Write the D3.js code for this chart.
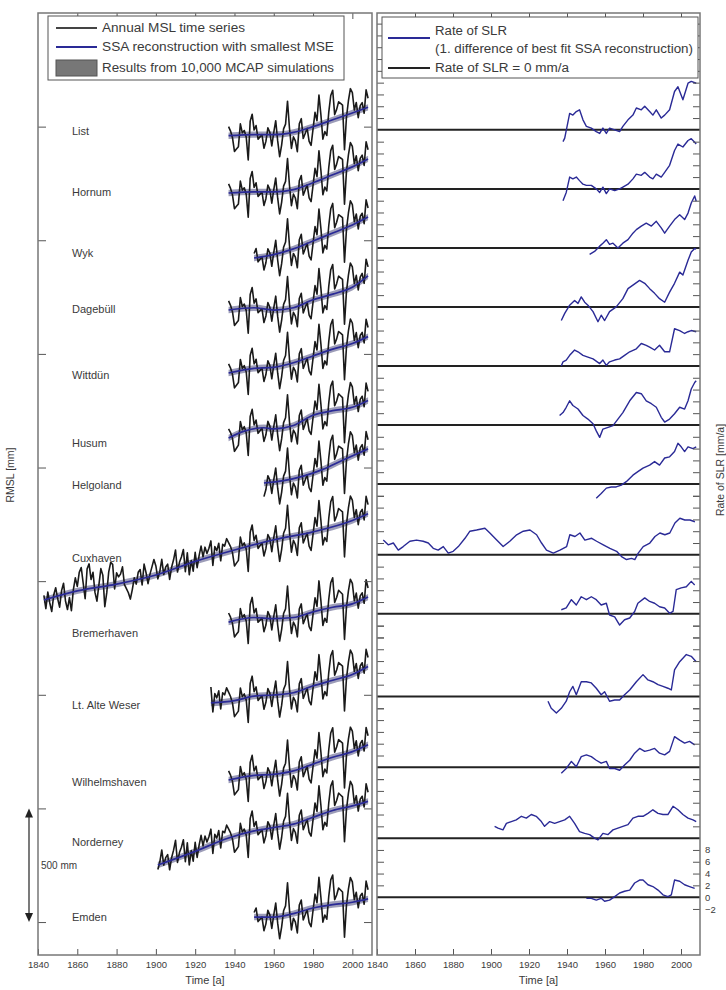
<!DOCTYPE html>
<html>
<head>
<meta charset="utf-8">
<script src="https://cdn.jsdelivr.net/npm/d3@7"></script>
<style>
  body { margin: 0; background: #fff; }
  svg { display: block; }
  text { font-family: "Liberation Sans", Arial, sans-serif; fill: #3a3a3a; }
</style>
</head>
<body>
<svg id="chart" width="726" height="990"></svg>
<script>
// ---- data ----
var stations = ["List", "Hornum", "Wyk", "Dagebüll", "Wittdün", "Husum", "Helgoland",
  "Cuxhaven", "Bremerhaven", "Lt. Alte Weser", "Wilhelmshaven", "Norderney", "Emden"];

// first year of each annual MSL record
var startYear = [1937, 1937, 1950, 1937, 1937, 1937, 1955, 1843, 1937, 1928, 1937, 1901, 1950];

// vertical offset of each record in the stacked plot (mm)
var mslOffset = [3460, 3208, 2922, 2693, 2416, 2130, 1932, 1417, 1320, 964, 625, 251, 22];

// zero line of each rate panel (mm/a, stacked)
var rateOffset = [130, 120, 110, 100, 90, 80, 70, 58, 48, 34, 22, 10, 0];

// annual MSL deviation from the SSA trend, mm (North Sea common signal)
var anomEarly = [ // 1843-1936
  20, -40, 30, -20, -60, 10, 40, -10, -50, 20,
  50, -30, -70, -20, -80, 10, 60, 20, 80, 100,
  30, -40, 90, 110, 40, 70, -20, -60, 10, 80,
  50, -90, -30, 60, 100, 90, -20, 50, 30, 40,
  70, -10, -30, -50, -80, -40, 10, -20, 30, 40,
  -30, 60, 20, -30, 10, 40, 70, 40, -20, 10,
  60, -10, 20, 30, -40, 10, 40, 80, -20, 20,
  40, 70, -30, 50, -50, 10, -40, 40, -30, 20,
  60, 10, 50, 20, 40, 70, -40, 40, 20, 50,
  -30, 40, 30, 60];
var anomLate = [ // 1937-2008
  40, 20, -10, -70, -60, -50, 50, 10, 20, -10,
  -110, 60, 90, 20, 40, -20, -10, 0, -60, -30,
  30, 10, -50, 10, 60, -30, -100, -50, 20, 40,
  140, 20, -70, -20, -40, -90, 30, 50, -40, -20,
  0, -60, -80, -10, 60, 20, 130, 40, -70, -40,
  -60, 40, 110, 130, 20, 40, 70, 60, 50, -150,
  -10, 60, 110, 90, 10, 40, -30, 20, 30, -20,
  80, 40];

// SSA reconstruction with smallest MSE, [year, mm above station offset]
var ssaList = [[1937, 0], [1950, 5], [1960, 5], [1970, 15], [1980, 40], [1990, 70], [2000, 100], [2008, 125]];
var ssaHornum = [[1937, 0], [1950, 5], [1960, 5], [1970, 15], [1980, 45], [1990, 80], [2000, 115], [2008, 150]];
var ssaWyk = [[1950, 0], [1960, 15], [1970, 40], [1980, 75], [1990, 110], [2000, 145], [2008, 180]];
var ssaDagebuell = [[1937, 0], [1950, 10], [1960, 0], [1970, 10], [1980, 45], [1990, 70], [2000, 100], [2008, 150]];
var ssaWittduen = [[1937, 0], [1950, 20], [1960, 25], [1970, 45], [1980, 75], [1990, 105], [2000, 130], [2008, 160]];
var ssaHusum = [[1937, 0], [1945, 30], [1955, 45], [1960, 40], [1970, 55], [1980, 100], [1990, 120], [2000, 135], [2008, 165]];
var ssaHelgoland = [[1955, 0], [1965, 10], [1975, 30], [1985, 60], [1995, 100], [2008, 150]];
var ssaCuxhaven = [[1843, 0], [1860, 40], [1880, 70], [1900, 110], [1920, 170], [1940, 220], [1960, 265], [1980, 300], [2000, 350], [2008, 380]];
var ssaBremerhaven = [[1937, 0], [1950, 20], [1960, 15], [1970, 20], [1980, 45], [1990, 65], [2000, 80], [2008, 110]];
var ssaAlteWeser = [[1928, 0], [1940, 10], [1950, 30], [1960, 35], [1970, 45], [1980, 75], [1990, 100], [2000, 125], [2008, 160]];
var ssaWilhelmshaven = [[1937, 0], [1950, 20], [1960, 25], [1970, 40], [1980, 70], [1990, 100], [2000, 125], [2008, 155]];
var ssaNorderney = [[1901, 0], [1920, 60], [1937, 119], [1950, 150], [1960, 165], [1970, 180], [1980, 210], [1990, 240], [2000, 260], [2008, 280]];
var ssaEmden = [[1950, 0], [1960, 0], [1970, 15], [1980, 40], [1990, 55], [2000, 65], [2008, 80]];

// rate of SLR (1st difference of SSA reconstruction), [year, mm/a]
var rateList = [[1937.9, -2.0], [1938.8, -1.4], [1941.4, 2.8], [1943.1, 2.5], [1944.9, 3.1], [1946.6, 3.4], [1948.4, 1.7], [1950.2, 0.6], [1952.8, 0.3], [1955.4, -0.3], [1957.2, -0.6], [1958.9, 0.3], [1960.7, -0.6], [1962.4, 0.3], [1965.1, 0], [1967.7, -0.3], [1969.4, 0.6], [1972.1, 1.7], [1974.7, 2.5], [1976.5, 3.7], [1979.1, 3.4], [1980.9, 4.0], [1983.5, 3.1], [1985.2, 2.5], [1987.0, 3.4], [1989.6, 2.0], [1991.4, 2.5], [1994.0, 3.4], [1996.6, 6.5], [1998.4, 7.3], [2001.0, 5.1], [2003.7, 7.9], [2005.4, 8.2], [2008.0, 7.9]];
var rateHornum = [[1937.9, -2.0], [1939.6, -0.6], [1941.4, 2.0], [1943.1, 1.7], [1944.9, 2.0], [1946.6, 1.4], [1948.4, 0.8], [1950.2, 0.6], [1952.8, 0.6], [1955.4, 0], [1957.2, -0.6], [1958.9, 0.3], [1960.7, -0.8], [1962.4, 0], [1965.1, -0.3], [1967.7, 0], [1969.4, 0.3], [1972.1, 0.8], [1974.7, 1.7], [1976.5, 2.5], [1979.1, 2.3], [1980.9, 2.8], [1983.5, 2.0], [1985.2, 1.7], [1987.0, 2.5], [1989.6, 2.0], [1991.4, 2.8], [1994.0, 4.0], [1996.6, 6.5], [1998.4, 7.6], [2001.0, 7.1], [2003.7, 8.2], [2005.4, 8.5], [2007.2, 7.9], [2008.0, 7.6]];
var rateWyk = [[1951.9, -1.1], [1954.5, -0.6], [1957.2, 0.3], [1958.9, 0.8], [1960.7, 1.4], [1962.4, 0.6], [1964.2, 0.8], [1966.8, 0], [1969.4, 0.8], [1972.1, 1.4], [1974.7, 2.5], [1976.5, 3.1], [1979.1, 3.7], [1981.7, 4.2], [1984.4, 3.7], [1987.0, 4.5], [1989.6, 3.4], [1991.4, 2.5], [1994.0, 3.7], [1996.6, 4.8], [1999.3, 5.6], [2001.9, 4.8], [2003.7, 5.9], [2005.4, 7.6], [2007.2, 8.8], [2008.0, 7.9]];
var rateDagebuell = [[1937.0, -2.3], [1938.8, -1.1], [1941.4, 0.3], [1944.0, 1.1], [1945.8, 0.6], [1947.5, 1.7], [1949.3, 0.8], [1951.0, 0.3], [1953.7, -0.8], [1956.3, -2.5], [1958.0, -1.4], [1959.8, -2.3], [1962.4, -0.8], [1965.9, 0], [1969.4, 1.4], [1972.1, 3.1], [1974.7, 3.7], [1978.2, 4.5], [1980.9, 4.0], [1983.5, 3.1], [1986.1, 2.3], [1988.7, 1.4], [1991.4, 0.8], [1994.0, 2.5], [1996.6, 4.0], [1999.3, 5.9], [2001.0, 5.4], [2003.7, 7.9], [2005.4, 9.3], [2007.2, 9.9], [2008.0, 9.8]];
var rateWittduen = [[1937.0, 0], [1937.9, 0.7], [1939.6, 1.0], [1941.4, 1.8], [1944.0, 2.7], [1945.8, 2.4], [1948.4, 1.8], [1951.0, 1.5], [1953.7, 1.2], [1957.2, 0.4], [1958.9, 1.0], [1960.7, 0.1], [1962.4, 0.7], [1965.1, 1.0], [1967.7, 1.2], [1970.3, 1.8], [1973.0, 2.4], [1976.5, 2.9], [1979.1, 3.8], [1981.7, 3.5], [1983.5, 3.2], [1986.1, 2.7], [1988.7, 3.5], [1991.4, 2.4], [1994.0, 2.4], [1996.6, 6.3], [1999.3, 6.0], [2001.9, 5.5], [2003.7, 5.8], [2005.4, 6.0], [2008.0, 5.8]];
var rateHusum = [[1936.1, 1.6], [1937.9, 2.1], [1939.6, 3.0], [1941.4, 4.1], [1943.1, 3.3], [1945.8, 2.7], [1948.4, 1.6], [1951.0, 1.0], [1953.7, 0.2], [1955.4, -1.0], [1957.2, -2.1], [1958.9, -0.7], [1961.6, -0.4], [1964.2, -0.1], [1966.8, 1.0], [1969.4, 2.1], [1973.0, 4.1], [1976.5, 5.5], [1979.1, 5.3], [1981.7, 4.1], [1984.4, 3.6], [1987.0, 3.0], [1989.6, 1.3], [1991.4, 0.5], [1994.0, 1.0], [1996.6, 1.9], [1999.3, 3.0], [2001.9, 2.7], [2003.7, 4.1], [2005.4, 6.1], [2007.2, 7.2], [2008.0, 7.5]];
var rateHelgoland = [[1955.4, -2.4], [1958.0, -1.6], [1960.7, -0.7], [1963.3, -0.5], [1965.9, -0.5], [1968.6, -0.2], [1971.2, 0.4], [1974.7, 1.5], [1977.3, 2.1], [1980.0, 2.7], [1983.5, 3.2], [1986.1, 3.8], [1988.7, 3.2], [1991.4, 4.4], [1994.0, 4.6], [1996.6, 5.5], [1998.4, 6.9], [2000.1, 6.3], [2001.9, 5.5], [2003.7, 6.3], [2006.3, 6.0], [2008.0, 6.3]];
var rateCuxhaven = [[1843.3, 2.5], [1845.9, 1.7], [1848.6, 2.0], [1851.2, 0.8], [1853.8, 1.4], [1857.3, 2.3], [1860.8, 2.5], [1864.3, 2.3], [1867.0, 2.0], [1869.6, 1.1], [1872.2, 0.8], [1874.9, 1.4], [1877.5, 0.3], [1880.1, 0.6], [1882.8, 1.4], [1886.3, 2.8], [1888.9, 4.0], [1892.4, 4.2], [1896.8, 4.5], [1899.4, 3.7], [1903.0, 2.5], [1906.4, 1.4], [1909.9, 2.3], [1913.5, 3.4], [1917.0, 4.0], [1920.5, 4.2], [1924.0, 3.4], [1926.6, 2.0], [1929.2, 0.8], [1932.8, 0.3], [1936.3, 0.8], [1939.8, 1.4], [1941.5, 3.4], [1944.2, 3.1], [1946.8, 3.7], [1949.4, 2.5], [1953.0, 2.8], [1955.6, 2.3], [1959.1, 1.7], [1962.6, 1.1], [1966.1, 0.6], [1968.7, -0.3], [1971.3, -0.8], [1974.0, -0.6], [1975.7, -0.8], [1977.5, 0.3], [1980.1, 1.4], [1983.6, 2.0], [1986.3, 3.1], [1988.9, 3.7], [1991.5, 3.4], [1994.1, 3.7], [1996.8, 5.4], [1999.4, 6.2], [2002.0, 5.9], [2004.7, 5.9], [2007.3, 5.6]];
var rateBremerhaven = [[1937.0, 0.7], [1939.6, 1.0], [1942.3, 2.4], [1944.9, 1.5], [1947.5, 2.9], [1950.2, 2.4], [1952.8, 2.9], [1955.4, 2.4], [1958.0, 1.5], [1960.7, 1.8], [1962.4, -0.2], [1965.1, -0.5], [1967.7, -1.9], [1970.3, -1.0], [1973.0, -0.7], [1975.6, 0.4], [1977.3, 1.8], [1980.9, 2.7], [1983.5, 2.1], [1986.1, 1.8], [1988.7, 1.2], [1991.4, 1.0], [1994.0, 0.1], [1995.8, 0.4], [1997.5, 4.1], [2000.1, 4.4], [2002.8, 4.6], [2005.4, 5.5], [2007.2, 4.9]];
var rateAlteWeser = [[1930.0, -0.8], [1931.7, -2.0], [1934.4, -2.8], [1937.0, -2.0], [1939.6, -0.8], [1941.4, 0.8], [1943.1, 1.7], [1944.9, 0.3], [1947.5, 2.5], [1950.2, 2.5], [1952.8, 2.3], [1955.4, 1.4], [1958.0, 0.3], [1959.8, 0.8], [1962.4, -0.8], [1965.1, -0.6], [1967.7, -0.6], [1970.3, 0.3], [1973.0, 1.1], [1976.5, 2.5], [1980.0, 3.7], [1982.6, 2.8], [1985.2, 2.5], [1987.9, 2.0], [1990.5, 1.7], [1993.1, 1.4], [1994.9, 1.1], [1996.6, 4.5], [1999.3, 5.9], [2002.8, 7.1], [2005.4, 6.8], [2008.0, 5.9]];
var rateWilhelmshaven = [[1937.0, -1.0], [1939.6, -0.2], [1942.3, 1.0], [1944.9, 0.1], [1947.5, 1.8], [1950.2, 2.1], [1952.8, 1.8], [1955.4, 1.2], [1958.0, 0.7], [1960.7, 1.0], [1962.4, -0.2], [1965.1, -0.2], [1967.7, -0.5], [1970.3, 0.4], [1973.0, 1.2], [1975.6, 2.4], [1978.2, 3.2], [1980.9, 2.7], [1983.5, 2.9], [1986.1, 3.2], [1988.7, 2.4], [1991.4, 2.1], [1994.0, 2.7], [1996.6, 5.2], [1999.3, 4.6], [2001.9, 4.1], [2004.5, 4.4], [2007.2, 3.8]];
var rateNorderney = [[1901.9, 2.0], [1903.7, 1.7], [1906.3, 1.4], [1908.1, 2.5], [1910.7, 2.8], [1913.3, 3.1], [1916.0, 3.7], [1918.6, 3.4], [1921.2, 4.0], [1923.8, 3.7], [1926.5, 2.8], [1928.2, 2.0], [1930.9, 2.8], [1933.5, 2.5], [1936.1, 2.8], [1938.8, 3.1], [1941.4, 3.7], [1944.0, 2.5], [1946.6, 1.1], [1949.3, 0.8], [1951.9, 0.6], [1954.5, 0], [1956.3, -0.3], [1958.9, 0.8], [1961.6, 0.6], [1964.2, 1.4], [1966.8, 1.7], [1969.4, 2.0], [1972.1, 2.3], [1974.7, 3.4], [1977.3, 3.7], [1980.0, 3.7], [1982.6, 4.2], [1985.2, 4.8], [1987.9, 4.2], [1990.5, 4.0], [1993.1, 4.0], [1995.8, 5.4], [1998.4, 4.8], [2001.0, 4.0], [2003.7, 3.4], [2006.3, 3.1], [2008.0, 2.8]];
var rateEmden = [[1950.2, -0.2], [1952.8, -0.2], [1955.4, -0.5], [1958.0, -0.2], [1959.8, -0.7], [1962.4, -0.5], [1965.1, 0.1], [1967.7, 0.7], [1970.3, 1.0], [1973.0, 1.2], [1975.6, 2.4], [1978.2, 2.9], [1980.0, 2.9], [1982.6, 2.1], [1985.2, 1.8], [1987.9, 1.2], [1990.5, 0.4], [1993.1, 0.1], [1994.9, 0.4], [1996.6, 2.9], [1999.3, 2.7], [2001.9, 2.1], [2004.5, 1.8], [2007.2, 1.5]];

var yearTicks = [1840, 1860, 1880, 1900, 1920, 1940, 1960, 1980, 2000];
var mslTicks = [0, 500, 1000, 1500, 2000, 2500, 3000, 3500];
var rateLabels = [-2, 0, 2, 4, 6, 8];

var ssaSeries = [ssaList, ssaHornum, ssaWyk, ssaDagebuell, ssaWittduen, ssaHusum, ssaHelgoland,
  ssaCuxhaven, ssaBremerhaven, ssaAlteWeser, ssaWilhelmshaven, ssaNorderney, ssaEmden];
var rateSeries = [rateList, rateHornum, rateWyk, rateDagebuell, rateWittduen, rateHusum, rateHelgoland,
  rateCuxhaven, rateBremerhaven, rateAlteWeser, rateWilhelmshaven, rateNorderney, rateEmden];

// ---- layout ----
var plotTop = 13, plotBottom = 955,
  colBlack = "#1a1a1a",
  colBlue = "#2a2a96",
  colFrame = "#777",
  labelNudge = [-5, -1, -5, -1, 2, 5, 2, -42, 11, 2, 2, -23, 0];

var svg = d3.select("#chart");

var xL = d3.scaleLinear().domain([1840, 2010]).range([38, 372]),
  xR = d3.scaleLinear().domain([1840, 2010]).range([377, 700]),
  yL = d3.scaleLinear().domain([-145, 4000]).range([plotBottom, plotTop]),
  yR = d3.scaleLinear().domain([-9.8, 149.8]).range([plotBottom, plotTop]);

function anomaly(year) {
  return year < 1937 ? anomEarly[year - 1843] : anomLate[year - 1937];
}

function styleAxis(g) {
  g.select(".domain").remove();
  g.selectAll(".tick line").attr("stroke", "#555").attr("stroke-width", 1);
  g.selectAll(".tick text").attr("fill", "#444").style("font-size", "9.5px");
}

// ---- left panel: annual MSL ----
var mslLayer = svg.append("g").attr("class", "msl");

ssaSeries.forEach(function(knots, i) {
  var off = mslOffset[i],
    trend = d3.scaleLinear().domain(knots.map(function(k) { return k[0]; }))
      .range(knots.map(function(k) { return k[1]; })),
    years = d3.range(startYear[i], 2009),
    g = mslLayer.append("g");

  g.append("path")
    .datum(knots)
    .attr("fill", "#7c7ca0")
    .attr("opacity", 0.75)
    .attr("d", d3.area()
      .curve(d3.curveMonotoneX)
      .x(function(d) { return xL(d[0]); })
      .y0(function(d) { return yL(off + d[1] - 14); })
      .y1(function(d) { return yL(off + d[1] + 14); }));

  g.append("path")
    .datum(years)
    .attr("fill", "none")
    .attr("stroke", colBlack)
    .attr("stroke-width", 1.6)
    .attr("stroke-linejoin", "round")
    .attr("d", d3.line()
      .x(function(y) { return xL(y); })
      .y(function(y) { return yL(off + trend(y) + anomaly(y)); }));

  g.append("path")
    .datum(knots)
    .attr("fill", "none")
    .attr("stroke", colBlue)
    .attr("stroke-width", 1.7)
    .attr("d", d3.line()
      .curve(d3.curveMonotoneX)
      .x(function(d) { return xL(d[0]); })
      .y(function(d) { return yL(off + d[1]); }));

  mslLayer.append("text")
    .attr("x", 72)
    .attr("y", yL(off) + labelNudge[i])
    .attr("dy", "0.35em")
    .style("font-size", "11px")
    .text(stations[i]);
});

// ---- right panel: rate of SLR ----
var rateLayer = svg.append("g").attr("class", "rate");

rateOffset.forEach(function(o, i) {
  rateLayer.append("line")
    .attr("x1", xR(1840)).attr("x2", xR(2010))
    .attr("y1", yR(o)).attr("y2", yR(o))
    .attr("stroke", "#222")
    .attr("stroke-width", 2);

  rateLayer.append("path")
    .datum(rateSeries[i])
    .attr("fill", "none")
    .attr("stroke", colBlue)
    .attr("stroke-width", 1.4)
    .attr("stroke-linejoin", "round")
    .attr("d", d3.line()
      .x(function(d) { return xR(d[0]); })
      .y(function(d) { return yR(o + d[1]); }));
});

// tick positions of each stacked rate axis
var rateTicks = [];
rateOffset.forEach(function(o, i) {
  var above = i === 0 ? 149.8 : rateOffset[i - 1],
    below = i === rateOffset.length - 1 ? o - 3 : rateOffset[i + 1] + 9,
    v;
  for (v = 2; o + v < above - 1; v += 2) rateTicks.push(o + v);
  for (v = -2; o + v > below; v -= 2) rateTicks.push(o + v);
});

// ---- axes ----
[xL, xR].forEach(function(x) {
  svg.append("g")
    .attr("transform", "translate(0," + plotBottom + ")")
    .call(d3.axisBottom(x).tickValues(yearTicks).tickSize(-6).tickPadding(6).tickFormat(d3.format("d")))
    .call(styleAxis);
  svg.append("g")
    .attr("transform", "translate(0," + plotTop + ")")
    .call(d3.axisTop(x).tickValues(yearTicks.slice(1)).tickSize(-6).tickFormat(""))
    .call(styleAxis);
});

svg.append("g").attr("transform", "translate(" + xL(1840) + ",0)")
  .call(d3.axisLeft(yL).tickValues(mslTicks).tickSize(-8).tickFormat("")).call(styleAxis);
svg.append("g").attr("transform", "translate(" + xL(2010) + ",0)")
  .call(d3.axisRight(yL).tickValues(mslTicks).tickSize(-8).tickFormat("")).call(styleAxis);

svg.append("g").attr("transform", "translate(" + xR(1840) + ",0)")
  .call(d3.axisLeft(yR).tickValues(rateTicks).tickSize(-7).tickFormat("")).call(styleAxis);
svg.append("g").attr("transform", "translate(" + xR(2010) + ",0)")
  .call(d3.axisRight(yR).tickValues(rateTicks).tickSize(-7).tickFormat("")).call(styleAxis);
svg.append("g").attr("transform", "translate(" + xR(2010) + ",0)")
  .call(d3.axisRight(yR).tickValues(rateLabels).tickSize(0).tickPadding(5).tickFormat(d3.format("d")))
  .call(styleAxis)
  .selectAll("text").style("font-size", "9.5px");

// frames
[xL, xR].forEach(function(x) {
  svg.append("rect")
    .attr("x", x(1840)).attr("y", plotTop)
    .attr("width", x(2010) - x(1840)).attr("height", plotBottom - plotTop)
    .attr("fill", "none")
    .attr("stroke", colFrame)
    .attr("stroke-width", 1.5);
});

// axis titles
svg.append("text").attr("x", (xL(1840) + xL(2010)) / 2).attr("y", 984)
  .attr("text-anchor", "middle").style("font-size", "11px").text("Time [a]");
svg.append("text").attr("x", (xR(1840) + xR(2010)) / 2).attr("y", 984)
  .attr("text-anchor", "middle").style("font-size", "11px").text("Time [a]");
svg.append("text")
  .attr("transform", "translate(14,475) rotate(-90)")
  .attr("text-anchor", "middle").style("font-size", "10.5px").text("RMSL [mm]");
svg.append("text")
  .attr("transform", "translate(724,470) rotate(-90)")
  .attr("text-anchor", "middle").style("font-size", "10.5px").text("Rate of SLR [mm/a]");

// 500 mm scale arrow
var arrowX = 29;
svg.append("line")
  .attr("x1", arrowX).attr("x2", arrowX)
  .attr("y1", yL(0) - 6).attr("y2", yL(500) + 6)
  .attr("stroke", "#333").attr("stroke-width", 1.3);
svg.append("path")
  .attr("d", "M" + arrowX + "," + yL(500) + "l-4,9h8z")
  .attr("fill", "#222");
svg.append("path")
  .attr("d", "M" + arrowX + "," + yL(0) + "l-4,-9h8z")
  .attr("fill", "#222");
svg.append("text").attr("x", 41).attr("y", yL(250)).attr("dy", "0.35em")
  .style("font-size", "10px").text("500 mm");

// ---- legends ----
var legL = svg.append("g");
legL.append("rect").attr("x", 48).attr("y", 16).attr("width", 296).attr("height", 64)
  .attr("fill", "#fff").attr("stroke", "#555").attr("stroke-width", 1);
legL.append("line").attr("x1", 56).attr("x2", 97).attr("y1", 28).attr("y2", 28)
  .attr("stroke", "#444").attr("stroke-width", 2);
legL.append("line").attr("x1", 56).attr("x2", 97).attr("y1", 47).attr("y2", 47)
  .attr("stroke", colBlue).attr("stroke-width", 2);
legL.append("rect").attr("x", 56).attr("y", 60).attr("width", 41).attr("height", 16)
  .attr("fill", "#777").attr("stroke", "#555");
[["Annual MSL time series", 28, 143], ["SSA reconstruction with smallest MSE", 47, 232],
  ["Results from 10,000 MCAP simulations", 68, 232]].forEach(function(t) {
  legL.append("text").attr("x", 102).attr("y", t[1]).attr("dy", "0.35em")
    .attr("textLength", t[2]).attr("lengthAdjust", "spacingAndGlyphs")
    .style("font-size", "12px").text(t[0]);
});

var legR = svg.append("g");
legR.append("rect").attr("x", 382).attr("y", 17).attr("width", 316).attr("height", 61)
  .attr("fill", "#fff").attr("stroke", "#555").attr("stroke-width", 1);
legR.append("line").attr("x1", 388).attr("x2", 430).attr("y1", 38).attr("y2", 38)
  .attr("stroke", colBlue).attr("stroke-width", 2);
legR.append("line").attr("x1", 388).attr("x2", 430).attr("y1", 68).attr("y2", 68)
  .attr("stroke", "#222").attr("stroke-width", 2);
[["Rate of SLR", 31, 72], ["(1. difference of best fit SSA reconstruction)", 49, 258],
  ["Rate of SLR = 0 mm/a", 68, 134]].forEach(function(t) {
  legR.append("text").attr("x", 435).attr("y", t[1]).attr("dy", "0.35em")
    .attr("textLength", t[2]).attr("lengthAdjust", "spacingAndGlyphs")
    .style("font-size", "12px").text(t[0]);
});
</script>
</body>
</html>
